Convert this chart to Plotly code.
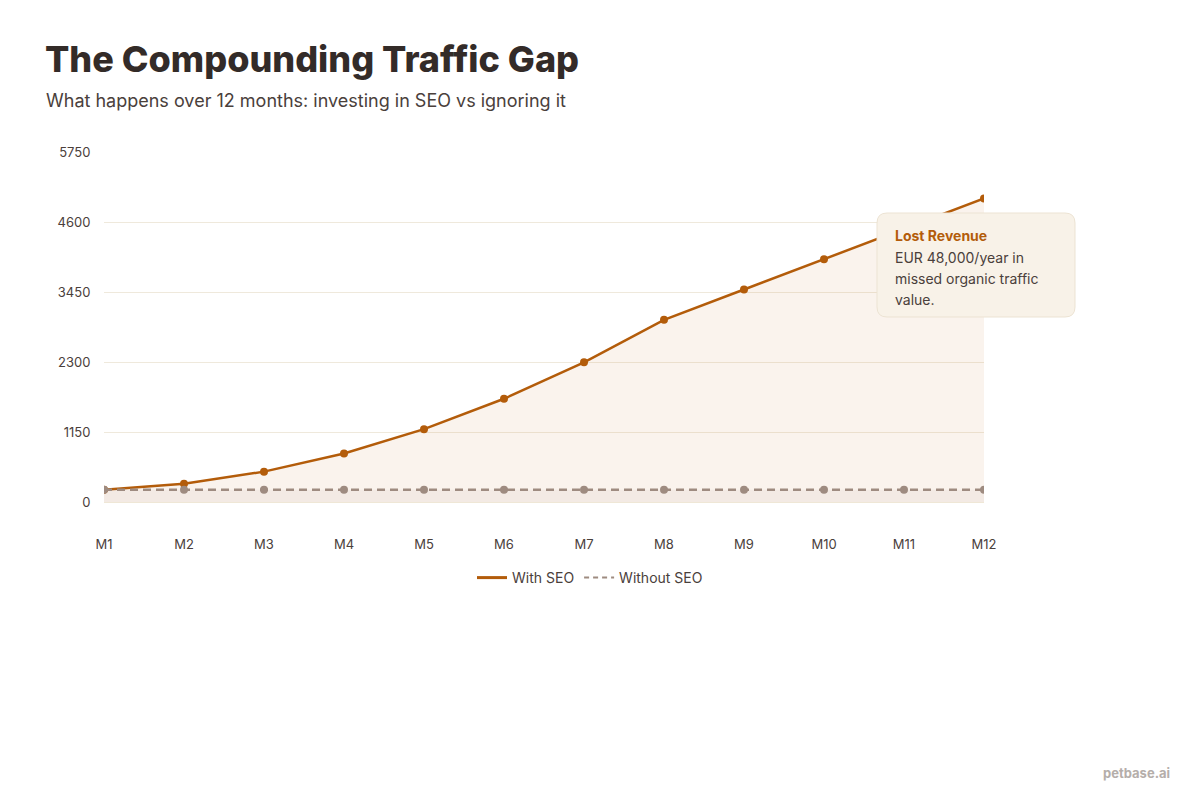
import plotly.graph_objects as go

# Data
months = ['M1', 'M2', 'M3', 'M4', 'M5', 'M6', 'M7', 'M8', 'M9', 'M10', 'M11', 'M12']
with_seo = [200, 300, 500, 800, 1200, 1700, 2300, 3000, 3500, 4000, 4500, 5000]
without_seo = [200, 200, 200, 200, 200, 200, 200, 200, 200, 200, 200, 200]
y_ticks = [0, 1150, 2300, 3450, 4600, 5750]
callout_lines = ['EUR 48,000/year in', 'missed organic traffic', 'value.']

# page is drawn with an 8px body offset, so pixel positions are shifted back by it
OFF = 8
W, H = 1200, 800
L, R, T, B = 104 - OFF, 1200 - 984 + OFF, 152 - OFF, 800 - 502 + OFF

SEO_COLOR = '#b35c0a'
NO_SEO_COLOR = '#9e8b80'
TEXT = '#4a403b'

fig = go.Figure()

fig.add_trace(go.Scatter(
    x=months, y=with_seo, name='With SEO', mode='lines+markers', showlegend=False,
    line=dict(color=SEO_COLOR, width=2.5),
    marker=dict(size=8, color=SEO_COLOR),
    fill='tozeroy', fillcolor='rgba(200,120,60,0.09)',
))
fig.add_trace(go.Scatter(
    x=months, y=without_seo, name='Without SEO', mode='lines+markers', showlegend=False,
    line=dict(color=NO_SEO_COLOR, width=2.5, dash='8px,5px'),
    marker=dict(size=8, color=NO_SEO_COLOR),
    fill='tozeroy', fillcolor='rgba(160,130,110,0.07)',
))
# legend entries: line only
fig.add_trace(go.Scatter(x=[None], y=[None], name='With SEO', mode='lines',
                         line=dict(color=SEO_COLOR, width=3)))
fig.add_trace(go.Scatter(x=[None], y=[None], name='Without SEO', mode='lines',
                         line=dict(color=NO_SEO_COLOR, width=2, dash='5px,4px')))


def px_x(p):
    return (p - OFF - L) / (W - L - R)


def px_y(p):
    return (H - B - (p - OFF)) / (H - T - B)


# rounded callout box, drawn in paper coords from reference pixel positions
x0, x1, y0, y1, r = 877, 1075, 213, 317, 10
path = (
    f'M {px_x(x0 + r)},{px_y(y0)} L {px_x(x1 - r)},{px_y(y0)} '
    f'Q {px_x(x1)},{px_y(y0)} {px_x(x1)},{px_y(y0 + r)} '
    f'L {px_x(x1)},{px_y(y1 - r)} Q {px_x(x1)},{px_y(y1)} {px_x(x1 - r)},{px_y(y1)} '
    f'L {px_x(x0 + r)},{px_y(y1)} Q {px_x(x0)},{px_y(y1)} {px_x(x0)},{px_y(y1 - r)} '
    f'L {px_x(x0)},{px_y(y0 + r)} Q {px_x(x0)},{px_y(y0)} {px_x(x0 + r)},{px_y(y0)} Z'
)
fig.add_shape(type='path', xref='paper', yref='paper', path=path,
              fillcolor='#f8f2e8', line=dict(color='#ece3d3', width=1), layer='above')

fig.add_annotation(xref='paper', yref='paper', x=px_x(893), y=px_y(235), xanchor='left', yanchor='middle',
                   showarrow=False, text='<b>Lost Revenue</b>',
                   font=dict(family='Inter', size=14, color=SEO_COLOR))
for i, line in enumerate(callout_lines):
    fig.add_annotation(xref='paper', yref='paper', x=px_x(893), y=px_y(257 + 21 * i),
                       xanchor='left', yanchor='middle', showarrow=False, text=line,
                       font=dict(family='Inter', size=14, color=TEXT))

# title block
fig.add_annotation(xref='paper', yref='paper', x=px_x(43), y=px_y(59), xanchor='left', yanchor='middle',
                   showarrow=False, text='The Compounding Traffic Gap',
                   font=dict(family='Inter', size=36, weight=800, color='#332b28'))
fig.add_annotation(xref='paper', yref='paper', x=px_x(44), y=px_y(100), xanchor='left', yanchor='middle',
                   showarrow=False, text='What happens over 12 months: investing in SEO vs ignoring it',
                   font=dict(family='Inter', size=18, color=TEXT))
fig.add_annotation(xref='paper', yref='paper', x=px_x(1172), y=px_y(773), xanchor='right', yanchor='middle',
                   showarrow=False, text='<b>petbase.ai</b>',
                   font=dict(family='Inter', size=13, color='#b5aeaa'))

fig.update_xaxes(
    showgrid=False, showline=True, linecolor='#efe7d6', linewidth=1, zeroline=False,
    ticks='outside', ticklen=30, tickcolor='rgba(0,0,0,0)',
    tickfont=dict(family='Inter', size=13, color=TEXT), range=[0, 11],
)
fig.update_yaxes(
    range=[0, 5765], tickvals=y_ticks, showgrid=True, gridcolor='#efe9dc', gridwidth=1,
    zeroline=False, ticks='outside', ticklen=10, tickcolor='rgba(0,0,0,0)',
    tickfont=dict(family='Inter', size=13, color=TEXT),
)

fig.update_layout(
    width=W, height=H, autosize=False,
    margin=dict(l=L, r=R, t=T, b=B),
    plot_bgcolor='white', paper_bgcolor='white',
    font=dict(family='Inter', color=TEXT),
    legend=dict(orientation='h', xanchor='center', x=px_x(590), yanchor='middle', y=px_y(578),
                font=dict(family='Inter', size=14, color=TEXT), itemwidth=30),
    hovermode='x unified',
)

fig.write_html('out.html')
